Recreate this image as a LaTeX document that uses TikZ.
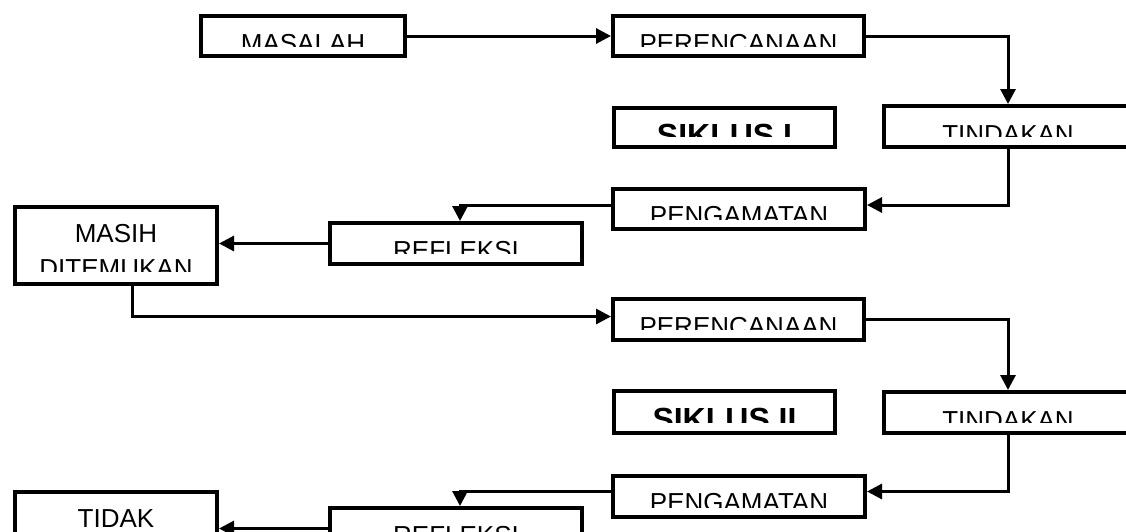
\documentclass[tikz,border=0pt]{standalone}
\usepackage{fontspec}
\setmainfont{Liberation Sans}
\usetikzlibrary{arrows.meta}
\newcommand{\fnorm}{\fontsize{26pt}{35pt}\selectfont}
\newcommand{\fbig}{\fontsize{32pt}{38pt}\selectfont\bfseries}
% #1 box name, #2 baseline offset, #3 clip offset, #4 font, #5 text
\newcommand{\boxlabel}[5]{%
  \begin{scope}
    \clip ([xshift=-2pt]#1.north west) rectangle ([xshift=2pt,yshift=-#3]#1.north east);
    \node[lbl,font=#4,anchor=base] (t#1) at ([yshift=-#2]#1.north) {#5};
  \end{scope}}
\begin{document}
\begin{tikzpicture}[x=1pt,y=-1pt,
  box/.style={draw, rectangle, line width=4pt, inner sep=0pt},
  lbl/.style={inner sep=0pt},
  conn/.style={line width=3pt, -{Triangle[length=15pt,width=15pt]}}]
\useasboundingbox (0,0) rectangle (1126,531);
% boxes
\node[box, minimum width=204pt, minimum height=40pt] (masalah) at (303,36) {};
\node[box, minimum width=251pt, minimum height=40pt] (per1) at (738.5,36) {};
\node[box, minimum width=221pt, minimum height=39pt] (sik1) at (724.5,127.5) {};
\node[box, minimum width=248pt, minimum height=41pt] (tin1) at (1008,126.5) {};
\node[box, minimum width=252pt, minimum height=40pt] (pen1) at (739,209) {};
\node[box, minimum width=252pt, minimum height=41pt] (ref1) at (456,243.5) {};
\node[box, minimum width=202pt, minimum height=77pt] (masih) at (116,245.5) {};
\node[box, minimum width=251pt, minimum height=41pt] (per2) at (738.5,319.5) {};
\node[box, minimum width=221pt, minimum height=42pt] (sik2) at (724.5,412) {};
\node[box, minimum width=248pt, minimum height=41pt] (tin2) at (1008,412.5) {};
\node[box, minimum width=252pt, minimum height=41pt] (pen2) at (739,496.5) {};
\node[box, minimum width=252pt, minimum height=41pt] (ref2) at (456,528.5) {};
\node[box, minimum width=202pt, minimum height=77pt] (tidak) at (116,530.5) {};
% labels (clipped as in the original)
\boxlabel{masalah}{38.1pt}{32.5pt}{\fnorm}{MASALAH}
\boxlabel{per1}{38.1pt}{32.5pt}{\fnorm}{PERENCANAAN}
\boxlabel{sik1}{40.4pt}{30.5pt}{\fbig}{SIKLUS I}
\boxlabel{tin1}{39.6pt}{32.5pt}{\fnorm}{TINDAKAN}
\boxlabel{pen1}{37.6pt}{32.5pt}{\fnorm}{PENGAMATAN}
\boxlabel{ref1}{38.1pt}{32.5pt}{\fnorm}{REFLEKSI}
\boxlabel{masih}{37.1pt}{66.5pt}{\fnorm}{MASIH}
\begin{scope}
  \clip ([xshift=-2pt]masih.north west) rectangle ([xshift=2pt,yshift=-66.5pt]masih.north east);
  \node[lbl,font=\fnorm,anchor=base] (tmasih2) at ([yshift=-72.1pt]masih.north) {DITEMUKAN};
\end{scope}
\boxlabel{per2}{38.1pt}{32pt}{\fnorm}{PERENCANAAN}
\boxlabel{sik2}{41.9pt}{33pt}{\fbig}{SIKLUS II}
\boxlabel{tin2}{39.6pt}{32.5pt}{\fnorm}{TINDAKAN}
\boxlabel{pen2}{37.6pt}{33pt}{\fnorm}{PENGAMATAN}
\boxlabel{ref2}{38.1pt}{32.5pt}{\fnorm}{REFLEKSI}
\boxlabel{tidak}{37.6pt}{66.5pt}{\fnorm}{TIDAK}
% connectors
\draw[conn] (masalah.east) -- (per1.west);
\draw[conn] (per1.east) -| (tin1.north);
\draw[conn] (tin1.south) |- ([yshift=4pt]pen1.east);
\draw[conn] ([yshift=4pt]pen1.west) -| ([xshift=4pt]ref1.north);
\draw[conn] (ref1.west) -- (ref1.west -| masih.east);
\draw[conn] ([xshift=16pt]masih.south) |- ([yshift=3pt]per2.west);
\draw[conn] (per2.east) -| (tin2.north);
\draw[conn] (tin2.south) |- ([yshift=5pt]pen2.east);
\draw[conn] ([yshift=5pt]pen2.west) -| ([xshift=4pt]ref2.north);
\draw[conn] (ref2.west) -- (ref2.west -| tidak.east);
\end{tikzpicture}
\end{document}
